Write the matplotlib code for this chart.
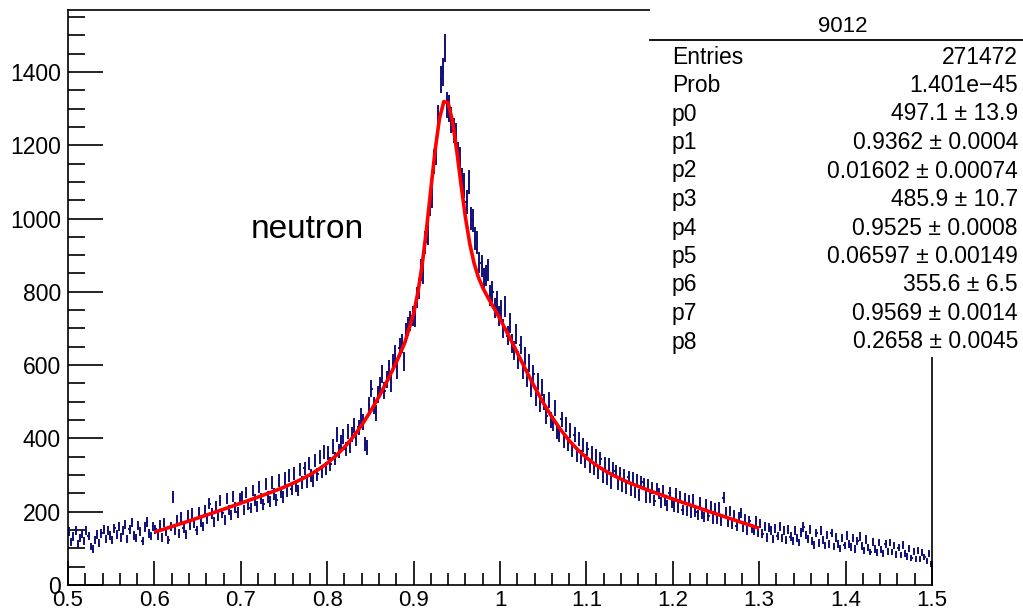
import numpy as np
import matplotlib
matplotlib.use("Agg")
import matplotlib.pyplot as plt
from matplotlib.patches import Rectangle
from matplotlib.lines import Line2D
from matplotlib.ticker import MultipleLocator

plt.rcParams['font.family'] = ['Liberation Sans', 'DejaVu Sans']

# ---------------------------------------------------------------------------
# Histogram "9012": counts per bin, 0.5 .. 1.5, bin width 0.0025
# ---------------------------------------------------------------------------
bin_lo = 0.5
bin_width = 0.0025
counts = [
    145, 118, 132, 150, 112, 128, 140, 121, 148, 133, 105, 98, 122, 138, 115, 141, 152, 126, 148, 135,
    122, 155, 138, 160, 130, 148, 165, 125, 152, 170, 135, 128, 162, 145, 120, 158, 172, 140, 133, 160,
    152, 135, 165, 130, 170, 145, 122, 160, 240, 150, 178, 140, 185, 155, 138, 190, 162, 195, 168, 150,
    198, 170, 160, 205, 180, 222, 195, 172, 215, 188, 230, 196, 178, 235, 205, 190, 242, 212, 198, 236,
    240, 205, 252, 220, 210, 258, 232, 215, 268, 235, 220, 275, 240, 228, 280, 248, 232, 285, 252, 240,
    290, 255, 298, 262, 305, 270, 258, 315, 280, 318, 282, 332, 298, 285, 340, 302, 350, 310, 362, 318,
    360, 330, 378, 345, 410, 365, 390, 405, 372, 420, 380, 410, 435, 398, 430, 462, 445, 385, 375, 490,
    535, 490, 470, 520, 545, 575, 530, 560, 590, 550, 605, 630, 585, 648, 660, 610, 690, 705, 720, 735,
    730, 785, 810, 860, 850, 935, 960, 1040, 1060, 1155, 1180, 1275, 1380, 1400, 1465, 1310, 1300, 1270, 1240, 1225,
    1175, 1160, 1105, 1090, 1045, 1100, 1000, 995, 945, 935, 880, 870, 835, 845, 860, 790, 800, 755, 775, 735,
    750, 700, 760, 680, 715, 660, 640, 685, 615, 655, 585, 625, 565, 605, 535, 575, 510, 555, 495, 540,
    500, 460, 505, 450, 440, 482, 420, 410, 452, 395, 438, 385, 422, 368, 410, 355, 398, 350, 382, 338,
    372, 325, 360, 318, 352, 308, 345, 295, 332, 290, 328, 280, 318, 310, 275, 305, 270, 300, 265, 295,
    260, 292, 252, 285, 245, 280, 275, 240, 272, 238, 265, 230, 262, 250, 225, 258, 230, 218, 252, 225,
    215, 248, 212, 240, 205, 235, 202, 230, 198, 232, 200, 190, 225, 195, 185, 220, 188, 215, 180, 208,
    180, 212, 175, 238, 198, 170, 202, 165, 190, 160, 186, 196, 158, 180, 150, 176, 155, 148, 174, 142,
    168, 140, 160, 130, 156, 150, 125, 155, 134, 160, 128, 150, 122, 152, 132, 120, 148, 128, 116, 144,
    158, 136, 125, 152, 120, 110, 142, 115, 148, 122, 108, 136, 112, 142, 105, 130, 112, 100, 128, 108,
    135, 112, 104, 128, 98, 120, 132, 106, 94, 124, 102, 90, 118, 98, 88, 116, 96, 86, 112, 92,
    116, 90, 108, 84, 102, 82, 110, 86, 78, 100, 74, 92, 72, 94, 70, 88, 76, 66, 86, 58,
]

# fitted curve (red)
fit_x = [0.60, 0.61, 0.62, 0.63, 0.64, 0.65, 0.66, 0.67, 0.68, 0.69,
         0.70, 0.71, 0.72, 0.73, 0.74, 0.75, 0.76, 0.77, 0.78, 0.79,
         0.80, 0.81, 0.82, 0.83, 0.84, 0.85, 0.86, 0.87, 0.88, 0.89,
         0.90, 0.905, 0.91, 0.915, 0.92, 0.925, 0.93, 0.935, 0.94, 0.945,
         0.95, 0.955, 0.96, 0.965, 0.97, 0.975, 0.98, 0.985, 0.99, 0.995,
         1.00, 1.01, 1.02, 1.03, 1.04, 1.05, 1.06, 1.07, 1.08, 1.09,
         1.10, 1.11, 1.12, 1.13, 1.14, 1.15, 1.16, 1.17, 1.18, 1.19,
         1.20, 1.21, 1.22, 1.23, 1.24, 1.25, 1.26, 1.27, 1.28, 1.29, 1.30]
fit_y = [144.4, 151.7, 159.3, 166.9, 174.7, 182.6, 190.6, 198.6, 206.7, 215.0,
         223.2, 231.6, 240.0, 248.6, 257.6, 267.0, 277.2, 288.3, 300.8, 315.4,
         332.3, 352.4, 376.1, 403.9, 436.3, 473.3, 514.5, 559.4, 607.7, 662.5,
         740.3, 798.5, 875.4, 971.7, 1080.7, 1187.8, 1273.5, 1319.2, 1315.5, 1265.5,
         1184.1, 1090.9, 1003.2, 931.6, 878.0, 839.7, 811.6, 788.8, 768.0, 747.2,
         725.9, 680.9, 633.6, 586.1, 540.3, 497.5, 458.6, 424.3, 394.5, 369.0,
         347.5, 329.3, 314.0, 300.6, 289.1, 278.6, 269.1, 260.0, 251.4, 242.9,
         234.7, 226.4, 218.3, 210.3, 202.2, 194.3, 186.3, 178.4, 170.5, 162.8, 154.8]

stat_title = "9012"
stat_names = ["Entries", "Prob", "p0", "p1", "p2", "p3", "p4", "p5", "p6", "p7", "p8"]
stat_values = ["271472", "1.401e\u221245", "497.1 \u00b1 13.9", "0.9362 \u00b1 0.0004",
               "0.01602 \u00b1 0.00074", "485.9 \u00b1 10.7", "0.9525 \u00b1 0.0008",
               "0.06597 \u00b1 0.00149", "355.6 \u00b1 6.5", "0.9569 \u00b1 0.0014",
               "0.2658 \u00b1 0.0045"]

# ---------------------------------------------------------------------------
W, H = 1023, 611
fig = plt.figure(figsize=(W / 100, H / 100), dpi=100)
ax = fig.add_axes([68 / W, 1 - 585 / H, (932 - 68) / W, (585 - 10) / H])

counts = np.array(counts, dtype=float)
centers = bin_lo + (np.arange(len(counts)) + 0.5) * bin_width
ax.errorbar(centers, counts, yerr=np.sqrt(counts), xerr=bin_width / 2,
            fmt='none', ecolor='#10107a', elinewidth=1.4, capsize=0, zorder=2)
ax.plot(fit_x, fit_y, color='#ff0000', lw=2.6, zorder=3, solid_capstyle='butt')

ax.set_xlim(0.5, 1.5)
ax.set_ylim(0, 1569)
ax.xaxis.set_major_locator(MultipleLocator(0.1))
ax.xaxis.set_minor_locator(MultipleLocator(0.02))
ax.yaxis.set_major_locator(MultipleLocator(200))
ax.yaxis.set_minor_locator(MultipleLocator(50))
ax.xaxis.set_major_formatter(plt.FuncFormatter(lambda v, p: f"{v:g}"))
ax.tick_params(which='both', direction='in', top=False, right=False,
               labelsize=16.5, width=1.2, color='black')
ax.tick_params(axis='y', which='major', length=25, pad=5)
ax.tick_params(axis='y', which='minor', length=12.5)
ax.tick_params(axis='x', which='major', length=17, pad=3.5, labelsize=16)
ax.tick_params(axis='x', which='minor', length=8.5)
for s in ax.spines.values():
    s.set_linewidth(1.2)

ax.text(0.711, 969, "neutron", fontsize=24, va='center', ha='left')

# stats box (covers the top right of the frame)
fig.add_artist(Rectangle((650 / W, 1 - 357 / H), 1 - 650 / W, 357 / H,
                         transform=fig.transFigure, facecolor='white',
                         edgecolor='none', zorder=5))
fig.add_artist(Line2D([650 / W, 1.0], [1 - 40 / H, 1 - 40 / H],
                      transform=fig.transFigure, color='black', lw=1.3, zorder=6))
fig.text(843 / W, 1 - 27 / H, stat_title, fontsize=16, ha='center', va='center', zorder=6)
for i, (name, val) in enumerate(zip(stat_names, stat_values)):
    y = 1 - (57 + 28.5 * i) / H
    fig.text(672 / W, y, name, fontsize=16.5, ha='left', va='center', zorder=6)
    fig.text(1018 / W, y, val, fontsize=16.5, ha='right', va='center', zorder=6)

fig.savefig("out.png", dpi=100)
